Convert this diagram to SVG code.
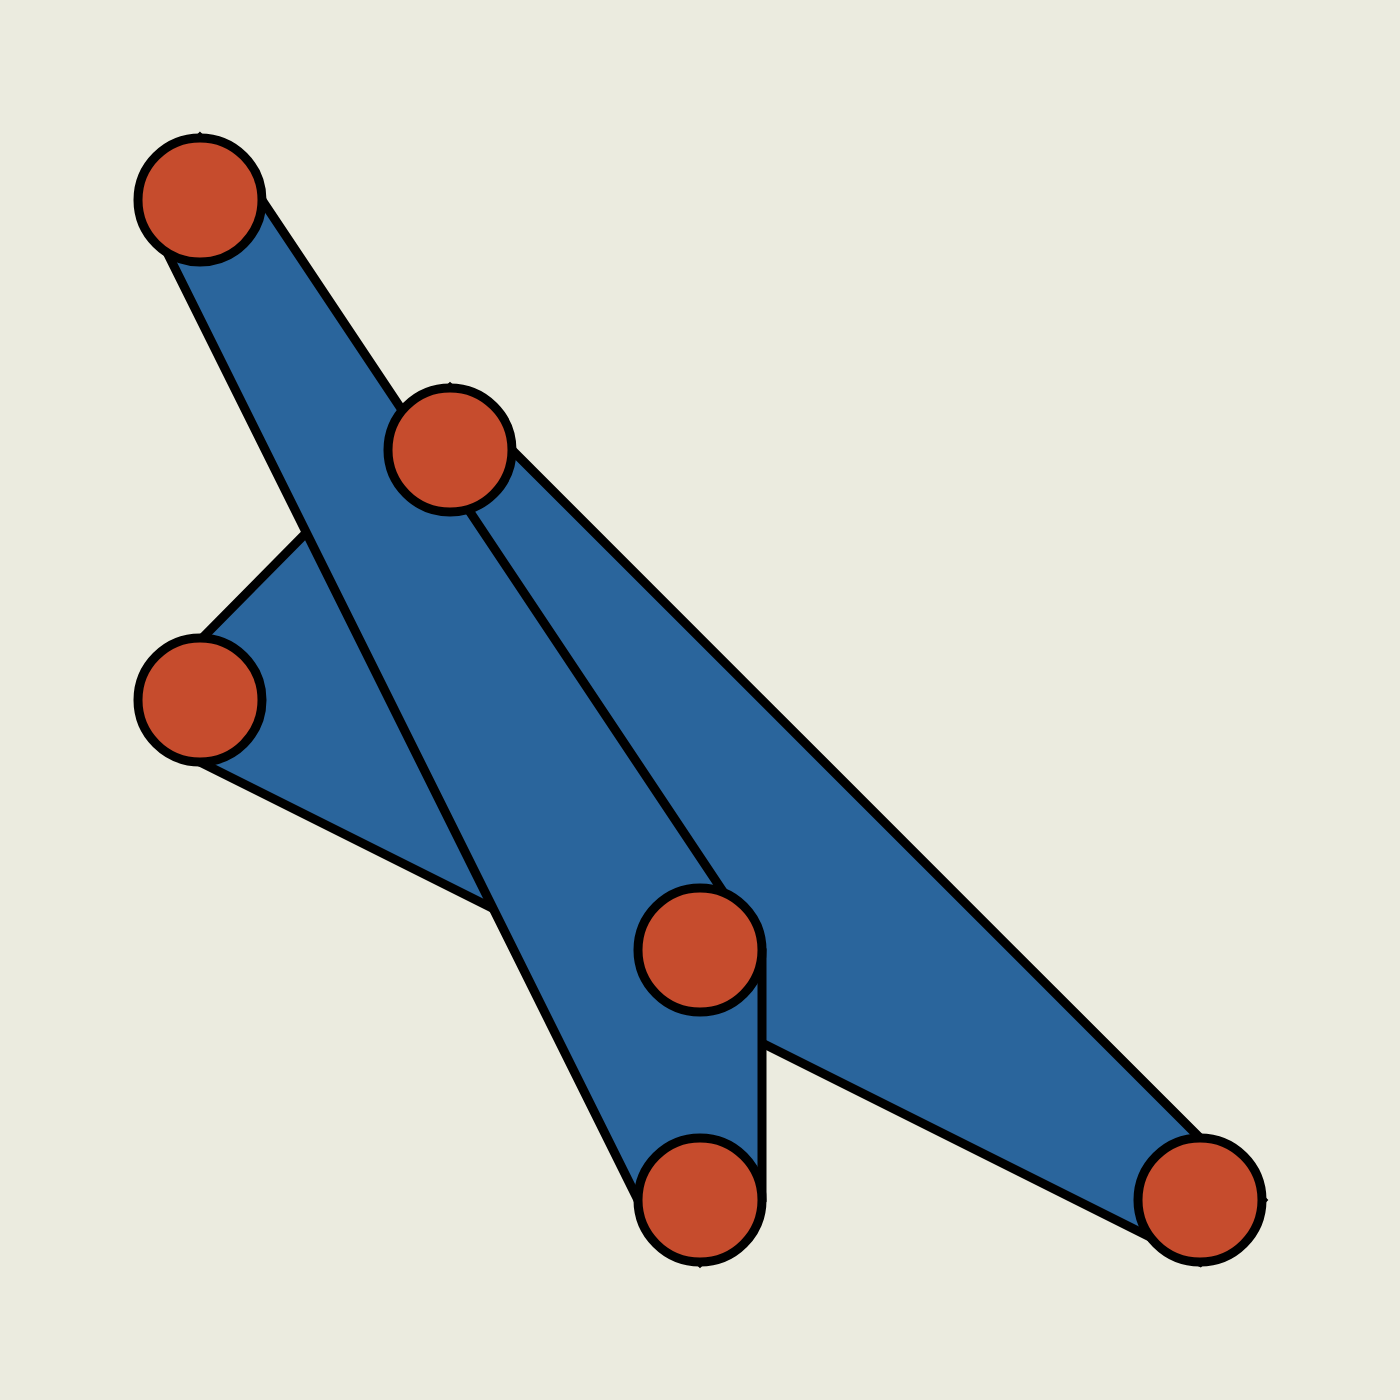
<svg xmlns="http://www.w3.org/2000/svg" width="1400" height="1400" viewBox="0 0 1400 1400">
<style>
.band{fill:#2a659c;stroke:#000;stroke-width:9;stroke-linejoin:miter;stroke-miterlimit:10}
.node{fill:#c64c2d;stroke:#000;stroke-width:9}
</style>
<rect width="1400" height="1400" fill="#ebebdf"/>
<g id="connectors">
<polygon class="band" points="450,388 512,450 1200,1138 1262,1200 1200,1262 200,762 141,700 388,450"/>
<polygon class="band" points="200,138 262,200 762,950 762,1200 700,1262 638,1200 141,200"/>
</g>
<g id="n1"><circle class="node" cx="200" cy="200" r="62"/></g>
<g id="n2"><circle class="node" cx="450" cy="450" r="62"/></g>
<g id="n3"><circle class="node" cx="200" cy="700" r="62"/></g>
<g id="n4"><circle class="node" cx="700" cy="950" r="62"/></g>
<g id="n5"><circle class="node" cx="700" cy="1200" r="62"/></g>
<g id="n6"><circle class="node" cx="1200" cy="1200" r="62"/></g>
</svg>
